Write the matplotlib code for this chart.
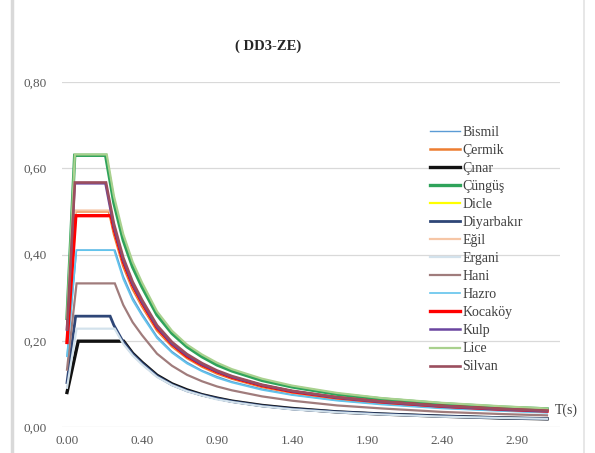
import matplotlib
matplotlib.use("Agg")
import matplotlib.pyplot as plt
from matplotlib.lines import Line2D
import numpy as np

# ---------------- data ----------------
title = "( DD3-ZE)"
sites = ["Bismil", "Çermik", "Çınar", "Çüngüş", "Dicle", "Diyarbakır", "Eğil",
         "Ergani", "Hani", "Hazro", "Kocaköy", "Kulp", "Lice", "Silvan"]

# spectral ordinates: Sa at T=0, plateau start TA, plateau end TB, then decaying branch
tail_T = [0.25, 0.30, 0.35, 0.40, 0.50, 0.60, 0.70, 0.80, 0.90, 1.00,
          1.20, 1.40, 1.70, 2.00, 2.40, 2.80, 3.10]

bismil_T = [0.0, 0.051, 0.256] + tail_T[1:]
bismil_S = [0.164, 0.410, 0.410, 0.350, 0.300, 0.263, 0.210, 0.175, 0.150, 0.131, 0.117,
            0.105, 0.088, 0.075, 0.062, 0.053, 0.044, 0.038, 0.034]
cermik_T = [0.0, 0.045, 0.224] + tail_T
cermik_S = [0.200, 0.500, 0.500, 0.448, 0.373, 0.320, 0.280, 0.224, 0.187, 0.160, 0.140,
            0.124, 0.112, 0.093, 0.080, 0.066, 0.056, 0.047, 0.040, 0.036]
cinar_T = [0.0, 0.060, 0.302] + tail_T[2:]
cinar_S = [0.080, 0.199, 0.199, 0.171, 0.150, 0.120, 0.100, 0.086, 0.075, 0.067, 0.060,
           0.050, 0.043, 0.035, 0.030, 0.025, 0.021, 0.019]
cungus_T = [0.0, 0.041, 0.206] + tail_T
cungus_S = [0.252, 0.630, 0.630, 0.520, 0.433, 0.371, 0.325, 0.260, 0.217, 0.186, 0.163,
            0.144, 0.130, 0.108, 0.093, 0.076, 0.065, 0.054, 0.046, 0.042]
dicle_T = [0.0, 0.047, 0.233] + tail_T
dicle_S = [0.196, 0.490, 0.490, 0.456, 0.380, 0.326, 0.285, 0.228, 0.190, 0.163, 0.143,
           0.127, 0.114, 0.095, 0.081, 0.067, 0.057, 0.048, 0.041, 0.037]
diyarbakir_T = [0.0, 0.046, 0.230] + tail_T
diyarbakir_S = [0.103, 0.257, 0.257, 0.236, 0.197, 0.169, 0.148, 0.118, 0.098, 0.084, 0.074,
                0.066, 0.059, 0.049, 0.042, 0.035, 0.030, 0.025, 0.021, 0.019]
egil_T = [0.0, 0.045, 0.227] + tail_T
egil_S = [0.201, 0.502, 0.502, 0.456, 0.380, 0.326, 0.285, 0.228, 0.190, 0.163, 0.143,
          0.127, 0.114, 0.095, 0.081, 0.067, 0.057, 0.048, 0.041, 0.037]
ergani_T = [0.0, 0.051, 0.254] + tail_T[1:]
ergani_S = [0.091, 0.228, 0.228, 0.193, 0.166, 0.145, 0.116, 0.097, 0.083, 0.073, 0.064,
            0.058, 0.048, 0.041, 0.034, 0.029, 0.024, 0.021, 0.019]
hani_T = [0.0, 0.051, 0.255] + tail_T[1:]
hani_S = [0.133, 0.333, 0.333, 0.283, 0.243, 0.213, 0.170, 0.142, 0.121, 0.106, 0.094,
          0.085, 0.071, 0.061, 0.050, 0.043, 0.035, 0.030, 0.027]
hazro_T = [0.0, 0.050, 0.251] + tail_T[1:]
hazro_S = [0.164, 0.410, 0.410, 0.343, 0.294, 0.258, 0.206, 0.172, 0.147, 0.129, 0.114,
           0.103, 0.086, 0.074, 0.061, 0.052, 0.043, 0.037, 0.033]
kocakoy_T = [0.0, 0.047, 0.235] + tail_T
kocakoy_S = [0.196, 0.490, 0.490, 0.460, 0.383, 0.329, 0.288, 0.230, 0.192, 0.164, 0.144,
             0.128, 0.115, 0.096, 0.082, 0.068, 0.058, 0.048, 0.041, 0.037]
kulp_T = [0.0, 0.041, 0.205] + tail_T
kulp_S = [0.226, 0.565, 0.565, 0.464, 0.387, 0.331, 0.290, 0.232, 0.193, 0.166, 0.145,
          0.129, 0.116, 0.097, 0.083, 0.068, 0.058, 0.048, 0.041, 0.037]
lice_T = [0.0, 0.042, 0.212] + tail_T
lice_S = [0.253, 0.632, 0.632, 0.536, 0.447, 0.383, 0.335, 0.268, 0.223, 0.191, 0.168,
          0.149, 0.134, 0.112, 0.096, 0.079, 0.067, 0.056, 0.048, 0.043]
silvan_T = [0.0, 0.042, 0.208] + tail_T
silvan_S = [0.227, 0.567, 0.567, 0.472, 0.393, 0.337, 0.295, 0.236, 0.197, 0.169, 0.148,
            0.131, 0.118, 0.098, 0.084, 0.069, 0.059, 0.049, 0.042, 0.038]

series_T = [bismil_T, cermik_T, cinar_T, cungus_T, dicle_T, diyarbakir_T, egil_T,
            ergani_T, hani_T, hazro_T, kocakoy_T, kulp_T, lice_T, silvan_T]
series_S = [bismil_S, cermik_S, cinar_S, cungus_S, dicle_S, diyarbakir_S, egil_S,
            ergani_S, hani_S, hazro_S, kocakoy_S, kulp_S, lice_S, silvan_S]

x_ticks = [0.00, 0.40, 0.90, 1.40, 1.90, 2.40, 2.90]
x_ticklabels = ["0.00", "0.40", "0.90", "1.40", "1.90", "2.40", "2.90"]
y_ticks = [0.00, 0.20, 0.40, 0.60, 0.80]
y_ticklabels = ["0,00", "0,20", "0,40", "0,60", "0,80"]

# ---------------- styles ----------------
colors = ["#5B9BD5", "#ED7D31", "#111111", "#2FA35A", "#FFFF00", "#2E4677", "#F6C6A6",
          "#D3E2EC", "#A07C7C", "#62C4EC", "#FF0000", "#6A45A0", "#A9D18E", "#9B4E5E"]
widths = [1.0, 1.8, 2.4, 2.4, 1.6, 2.0, 1.6, 1.6, 1.6, 1.2, 2.4, 1.8, 1.6, 1.9]

plt.rcParams['font.family'] = ['Liberation Serif', 'DejaVu Serif']

fig = plt.figure(figsize=(5.95, 4.53), dpi=100)
W, H = 595, 453
ax_l, ax_r, ax_b, ax_t = 62, 560, 427, 82
ax = fig.add_axes([ax_l / W, (H - ax_b) / H, (ax_r - ax_l) / W, (ax_b - ax_t) / H])

# category-like x axis: first 0.4 s stretched as in the source chart
def fwd(t):
    t = np.asarray(t, dtype=float)
    return np.where(t < 0.4, 1.25 * t, t + 0.1)

def inv(u):
    u = np.asarray(u, dtype=float)
    return np.where(u < 0.5, u / 1.25, u - 0.1)

ax.set_xscale('function', functions=(fwd, inv))

for name, T, S, c, lw in zip(sites, series_T, series_S, colors, widths):
    ax.plot(T, S, color=c, lw=lw, label=name, solid_joinstyle='miter')

u_left = -5 / 150.0
u_right = (ax_r - 67) / 150.0
ax.set_xlim(inv(u_left), inv(u_right))
ax.set_ylim(0, 0.8)

ax.set_xticks(x_ticks)
ax.set_xticklabels(x_ticklabels)
ax.set_yticks(y_ticks)
ax.set_yticklabels(y_ticklabels)
ax.minorticks_off()
ax.tick_params(axis='both', length=0, labelsize=9.5, labelcolor='#595959')
ax.tick_params(axis='x', pad=6)
ax.tick_params(axis='y', pad=11)
ax.grid(axis='y', color='#D9D9D9', lw=0.9)
ax.set_axisbelow(True)
for s in ax.spines.values():
    s.set_visible(False)

fig.text(268 / W, 1 - 46 / H, title, ha='center', va='center',
         fontsize=10.5, fontweight='bold', color='#262626')
fig.text(555 / W, 1 - 410 / H, "T(s)", ha='left', va='center',
         fontsize=10, color='#404040')

leg = ax.legend(loc='upper left', bbox_to_anchor=((424 - ax_l) / (ax_r - ax_l), (ax_b - 120) / (ax_b - ax_t)),
                frameon=False, fontsize=10, handlelength=2.2, handletextpad=0.15,
                labelspacing=0.365, borderaxespad=0)
for t in leg.get_texts():
    t.set_color('#404040')

# outer chart frame edges
fig.add_artist(Line2D([12 / W, 12 / W], [0, 1], color='#D9D9D9', lw=2.5))
fig.add_artist(Line2D([584 / W, 584 / W], [0, 1], color='#E3E3E3', lw=1.2))

fig.savefig("out.png", dpi=100)
